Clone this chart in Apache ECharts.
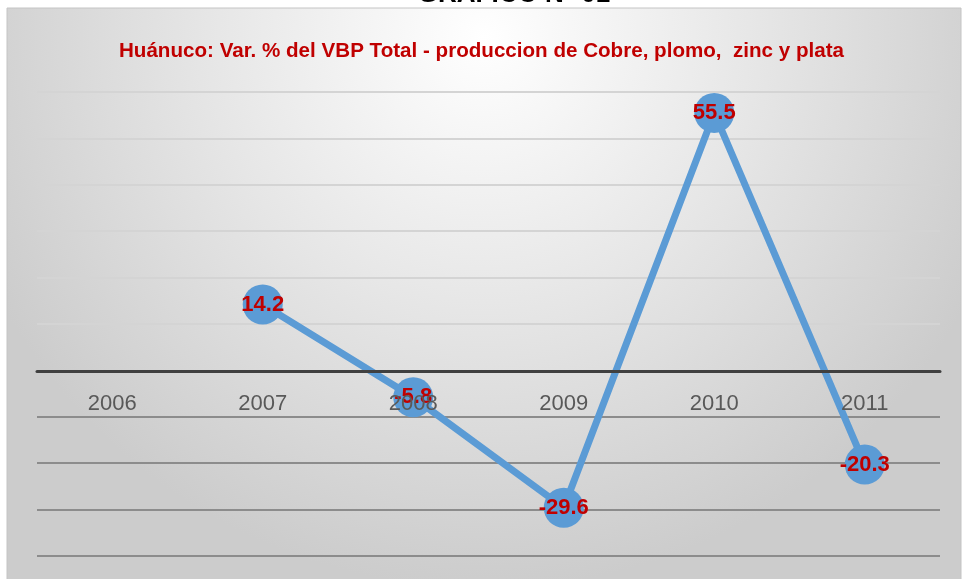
<!DOCTYPE html>
<html>
<head>
<meta charset="utf-8">
<script src="https://cdn.jsdelivr.net/npm/echarts@6/dist/echarts.min.js"></script>
<style>
html,body{margin:0;padding:0;background:#fff;}
#main{width:963px;height:579px;}
</style>
</head>
<body>
<div id="main"></div>
<script>
// datos del grafico
var years = ['2006', '2007', '2008', '2009', '2010', '2011'];
var varVbp = [null, 14.2, -5.8, -29.6, 55.5, -20.3];
var chartTitle = 'Huánuco: Var. % del VBP Total - produccion de Cobre, plomo,  zinc y plata';
var topTitle = 'GRAFICO N° 01';

var chart = echarts.init(document.getElementById('main'));

// lineas de division: debajo de cero mas oscuras
var splitColors = ['#8c8c8c', '#8c8c8c', '#8c8c8c', '#8c8c8c', 'rgba(0,0,0,0)',
    '#d4d4d4', '#d4d4d4', '#d4d4d4', '#d4d4d4', '#d4d4d4', '#d4d4d4'];

var option = {
    animation: false,
    graphic: [{
        type: 'rect',
        z: -10,
        shape: {x: 7, y: 8, width: 954, height: 580},
        style: {
            fill: {
                type: 'radial', x: 0.5, y: 0.05, r: 0.95,
                colorStops: [
                    {offset: 0, color: '#ffffff'},
                    {offset: 0.5, color: '#e6e6e6'},
                    {offset: 1, color: '#cccccc'}
                ]
            },
            stroke: '#c4c4c4',
            lineWidth: 1
        }
    }, {
        type: 'text',
        x: 514,
        y: 8,
        style: {
            text: topTitle,
            font: 'bold 26px "Liberation Sans"',
            fill: '#000',
            align: 'center',
            verticalAlign: 'bottom'
        }
    }],
    title: {
        text: chartTitle,
        left: 'center',
        top: 36,
        textStyle: {
            color: '#c00000',
            fontSize: 20.6,
            fontWeight: 'bold',
            fontFamily: '"Liberation Sans Narrow", "Liberation Sans"'
        }
    },
    grid: {left: 37, right: 23, top: 92, bottom: 23, outerBoundsMode: 'none'},
    xAxis: {
        type: 'category',
        data: years,
        position: 'bottom',
        offset: -185,
        z: 5,
        axisLine: {onZero: false, lineStyle: {color: '#404040', width: 3}},
        axisTick: {show: false},
        axisLabel: {
            color: '#595959',
            fontSize: 22,
            fontFamily: '"Liberation Sans"',
            margin: 22
        }
    },
    yAxis: {
        type: 'value',
        min: -40,
        max: 60,
        interval: 10,
        axisLabel: {show: false},
        axisLine: {show: false},
        axisTick: {show: false},
        splitLine: {lineStyle: {color: splitColors, width: 2}}
    },
    series: [{
        type: 'line',
        data: varVbp,
        connectNulls: false,
        symbol: 'circle',
        symbolSize: 40,
        itemStyle: {color: '#5b9bd5'},
        lineStyle: {color: '#5b9bd5', width: 7},
        label: {
            show: true,
            position: 'inside',
            color: '#c00000',
            fontSize: 22,
            fontWeight: 'bold',
            fontFamily: '"Liberation Sans"',
            formatter: function (p) { return p.value.toFixed(1); }
        }
    }]
};
chart.setOption(option);
</script>
</body>
</html>
